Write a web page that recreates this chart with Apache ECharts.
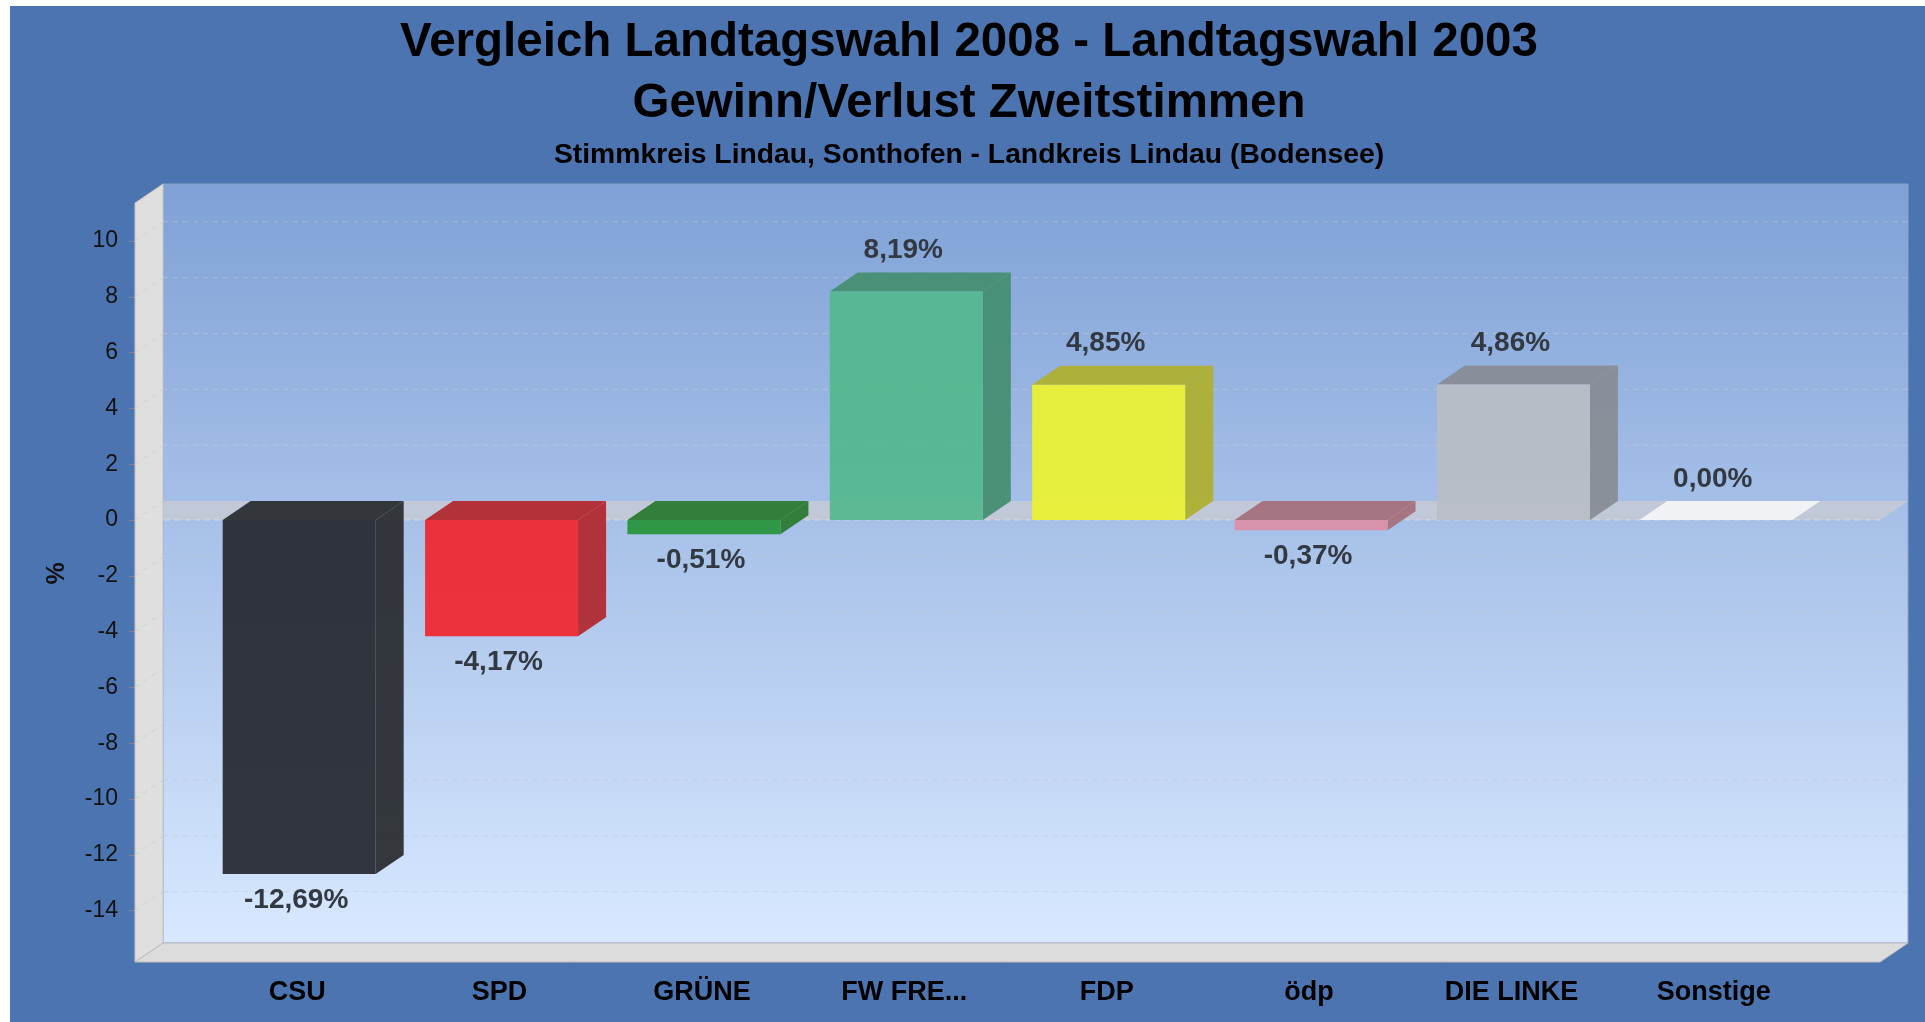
<!DOCTYPE html>
<html>
<head>
<meta charset="utf-8">
<title>Vergleich Landtagswahl 2008 - Landtagswahl 2003</title>
<style>
html, body { margin: 0; padding: 0; background: #fff; overflow: hidden; }
#panel { position: absolute; left: 10px; top: 6px; right: 0; bottom: 0; background: #4c74b1; }
#main { position: absolute; left: 0; top: 0; width: 1925px; height: 1022px; }
</style>
</head>
<body>
<div id="panel"></div>
<div id="main"></div>
<script src="https://cdn.jsdelivr.net/npm/echarts@6/dist/echarts.min.js"></script>
<script>
// Daten
var categories = ['CSU', 'SPD', 'GRÜNE', 'FW FRE...', 'FDP', 'ödp', 'DIE LINKE', 'Sonstige'];
var values = [-12.69, -4.17, -0.51, 8.19, 4.85, -0.37, 4.86, 0];
var tickValues = [-14, -12, -10, -8, -6, -4, -2, 0, 2, 4, 6, 8, 10];
var frontColors = ['#25282f', '#f0272e', '#25953a', '#54b88e', '#ecf230', '#da8fa6', '#b9bdc4', '#f2f4f8'];
var shadeColors = ['#2b2e33', '#b22a32', '#2b7a33', '#468e72', '#aeb032', '#a5717c', '#888d96', '#f2f4f8'];

var font = '"Liberation Sans", Arial, sans-serif';
var depthX = 28;
var depthY = 19;
var sideMargin = 63;
var barWidth = 153;

var chart = echarts.init(document.getElementById('main'));

// Rueckwand, Boden, linke Wand und Gitterlinien
function renderWalls(params, api) {
    var cs = params.coordSys;
    var L = cs.x - sideMargin;
    var R = cs.x + cs.width + sideMargin;
    var T = cs.y;
    var B = cs.y + cs.height;
    var zeroY = api.coord([0, 0])[1];
    var kids = [];

    kids.push({
        type: 'rect',
        shape: { x: L + depthX, y: T - depthY, width: R - L, height: B - T },
        style: {
            fill: new echarts.graphic.LinearGradient(0, 0, 0, 1, [
                { offset: 0, color: '#7fa1d6' },
                { offset: 1, color: '#d8e8ff' }
            ]),
            stroke: '#8ba3c6',
            lineWidth: 1
        }
    });

    // Null-Ebene, die linke Wand liegt darueber
    kids.push({
        type: 'polygon',
        shape: { points: [[L, zeroY], [L + depthX, zeroY - depthY], [R + depthX, zeroY - depthY], [R, zeroY]] },
        style: { fill: 'rgba(200,203,212,0.8)' }
    });
    kids.push({
        type: 'line',
        shape: { x1: L, y1: zeroY, x2: R, y2: zeroY },
        style: { stroke: 'rgba(225,228,232,0.7)', lineWidth: 1, lineDash: [5, 5] }
    });

    kids.push({
        type: 'polygon',
        shape: { points: [[L, T], [L + depthX, T - depthY], [L + depthX, B - depthY], [L, B]] },
        style: { fill: '#dfdfdf', stroke: '#c4c4c4', lineWidth: 1 }
    });
    kids.push({
        type: 'polygon',
        shape: { points: [[L, B], [L + depthX, B - depthY], [R + depthX, B - depthY], [R, B]] },
        style: { fill: '#dcdcdc', stroke: '#bdbdbd', lineWidth: 1 }
    });

    tickValues.forEach(function (v) {
        var y = api.coord([0, v])[1];
        if (v !== 0) {
            kids.push({
                type: 'line',
                shape: { x1: L + depthX, y1: y - depthY, x2: R + depthX, y2: y - depthY },
                style: { stroke: 'rgba(198,202,206,0.6)', lineWidth: 1, lineDash: [5, 5] }
            });
        }
        kids.push({
            type: 'line',
            shape: { x1: L, y1: y, x2: L + depthX, y2: y - depthY },
            style: { stroke: '#d0d0d0', lineWidth: 1, lineDash: [5, 5] }
        });
    });
    return { type: 'group', children: kids };
}

// Balken in 3D-Optik, Position kommt von den Achsen
function renderBar(params, api) {
    var i = params.dataIndex;
    var v = api.value(1);
    var end = api.coord([api.value(0), v]);
    var zero = api.coord([api.value(0), 0]);
    var x1 = end[0] - barWidth / 2;
    var x2 = x1 + barWidth;
    var yTop = Math.min(end[1], zero[1]);
    var yBot = Math.max(end[1], zero[1]);
    var text = v.toFixed(2).replace('.', ',') + '%';
    var kids = [];

    kids.push({
        type: 'polygon',
        shape: { points: [[x2, yTop], [x2 + depthX, yTop - depthY], [x2 + depthX, yBot - depthY], [x2, yBot]] },
        style: { fill: shadeColors[i], opacity: 0.95 }
    });
    kids.push({
        type: 'polygon',
        shape: { points: [[x1, yTop], [x1 + depthX, yTop - depthY], [x2 + depthX, yTop - depthY], [x2, yTop]] },
        style: { fill: shadeColors[i], opacity: 0.95 }
    });
    kids.push({
        type: 'rect',
        shape: { x: x1, y: yTop, width: barWidth, height: yBot - yTop },
        style: { fill: frontColors[i], opacity: 0.93 }
    });
    kids.push({
        type: 'text',
        style: {
            x: end[0] - 3,
            y: v < 0 ? yBot + 26 : yTop - 41,
            text: text,
            align: 'center',
            verticalAlign: 'middle',
            fill: '#323942',
            font: 'bold 28px ' + font
        }
    });
    return { type: 'group', children: kids };
}

var option = {
    animation: false,
    backgroundColor: 'transparent',
    title: [
        {
            text: 'Vergleich Landtagswahl 2008 - Landtagswahl 2003',
            left: 964, top: 38, textAlign: 'center', textVerticalAlign: 'middle',
            textStyle: { color: '#000', fontSize: 47.5, fontWeight: 'bold', fontFamily: font }
        },
        {
            text: 'Gewinn/Verlust Zweitstimmen',
            left: 964, top: 99, textAlign: 'center', textVerticalAlign: 'middle',
            textStyle: { color: '#000', fontSize: 47.5, fontWeight: 'bold', fontFamily: font }
        },
        {
            text: 'Stimmkreis Lindau, Sonthofen - Landkreis Lindau (Bodensee)',
            left: 964, top: 150, textAlign: 'center', textVerticalAlign: 'middle',
            textStyle: { color: '#000', fontSize: 28.3, fontWeight: 'bold', fontFamily: font }
        }
    ],
    grid: { left: 198, top: 203, width: 1619, height: 759 },
    xAxis: {
        type: 'category',
        data: categories,
        axisLine: { show: false, onZero: false },
        axisTick: { show: false },
        axisLabel: { color: '#000', fontSize: 27, fontWeight: 'bold', fontFamily: font, margin: 17, padding: [0, 4, 0, 0] }
    },
    yAxis: {
        type: 'value',
        min: -15.84,
        max: 11.36,
        offset: sideMargin,
        name: '%',
        nameLocation: 'middle',
        nameGap: 65,
        nameRotate: 90,
        nameTextStyle: { color: '#111', fontSize: 25, fontWeight: 'bold', fontFamily: font, padding: [0, 0, 0, 18] },
        axisLine: { show: false },
        splitLine: { show: false },
        axisTick: { show: true, length: 6, lineStyle: { color: '#7c8794' }, customValues: tickValues },
        axisLabel: { color: '#111', fontSize: 23, fontFamily: font, margin: 17, customValues: tickValues }
    },
    series: [
        {
            type: 'custom',
            silent: true,
            z: 1,
            clip: false,
            renderItem: renderWalls,
            data: [[0, 0]]
        },
        {
            type: 'custom',
            silent: true,
            z: 2,
            clip: false,
            renderItem: renderBar,
            encode: { x: 0, y: 1 },
            data: values.map(function (v, i) { return [i, v]; })
        }
    ]
};
chart.setOption(option);
</script>
</body>
</html>
